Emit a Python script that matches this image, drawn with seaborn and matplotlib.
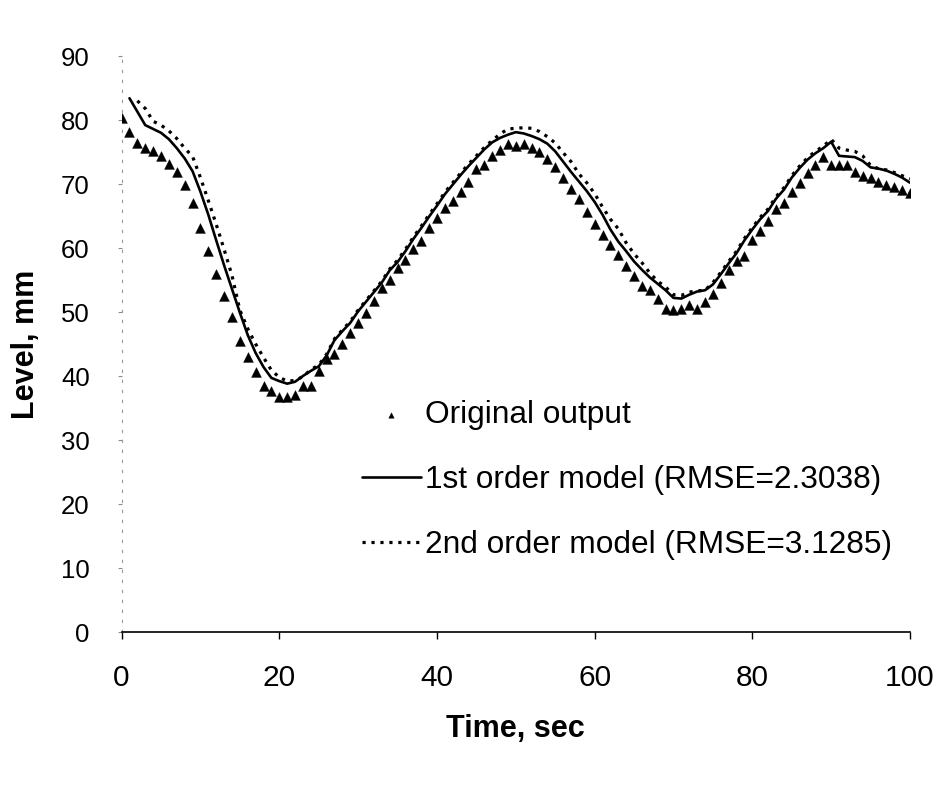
import matplotlib
matplotlib.use("Agg")
import matplotlib.pyplot as plt
import seaborn as sns
import pandas as pd

# Measured tank level (one sample per second)
time_orig = list(range(0, 101))
level_orig = [
    80.3, 78.2, 76.4, 75.7, 75.1, 74.4, 73.2, 71.9, 69.9, 67.0,
    63.1, 59.5, 55.9, 52.5, 49.2, 45.5, 42.9, 40.7, 38.5, 37.6,
    36.7, 36.7, 37.0, 38.5, 38.5, 40.8, 42.7, 43.5, 45.0, 46.7,
    48.3, 49.8, 51.7, 53.7, 55.0, 56.8, 58.1, 59.8, 61.1, 63.2,
    64.7, 66.2, 67.4, 68.7, 70.3, 72.4, 73.0, 74.3, 75.3, 76.2,
    75.9, 76.2, 75.6, 75.0, 73.9, 72.6, 70.9, 69.2, 67.7, 65.6,
    63.8, 62.0, 60.5, 58.9, 57.2, 55.7, 54.1, 53.4, 52.1, 50.5,
    50.3, 50.5, 51.1, 50.5, 51.5, 52.8, 54.5, 56.5, 57.9, 58.7,
    61.3, 62.7, 64.2, 66.1, 67.1, 68.8, 70.1, 71.7, 72.9, 74.2,
    73.0, 73.0, 73.0, 71.8, 71.2, 70.9, 70.3, 69.9, 69.6, 69.1,
    68.6,
]

# First-order model prediction
time_m1 = list(range(1, 101))
level_m1 = [
    83.4, 81.3, 79.2, 78.6, 78.0, 77.0, 75.6, 74.0, 72.0, 68.8,
    65.2, 61.2, 57.3, 53.6, 49.9, 46.4, 43.6, 41.4, 39.7, 39.2,
    38.8, 39.1, 40.0, 40.8, 41.5, 43.2, 45.6, 47.0, 48.3, 50.1,
    51.6, 53.1, 54.6, 56.5, 57.8, 59.5, 61.4, 63.1, 64.9, 66.6,
    68.4, 69.9, 71.4, 72.8, 74.1, 75.4, 76.5, 77.2, 77.7, 78.1,
    77.9, 77.5, 77.0, 76.3, 75.1, 73.5, 71.9, 70.4, 68.9, 67.2,
    65.2, 62.9, 61.0, 59.5, 57.9, 56.6, 55.4, 54.4, 53.4, 52.2,
    52.1, 52.7, 53.2, 53.4, 54.3, 55.9, 57.6, 59.2, 61.2, 62.9,
    64.5, 65.8, 67.7, 69.1, 71.0, 72.5, 73.8, 74.8, 75.6, 76.6,
    74.4, 74.3, 74.2, 73.6, 72.6, 72.4, 72.1, 71.6, 71.0, 70.2,
]

# Second-order model prediction
time_m2 = list(range(2, 101))
level_m2 = [
    83.0, 81.8, 79.8, 79.2, 78.3, 77.1, 75.6, 74.3, 71.0,
    67.4, 63.7, 59.8, 55.7, 50.3, 47.4, 45.0, 42.9, 40.9, 39.8,
    39.2, 39.3, 39.9, 41.0, 41.7, 43.4, 45.8, 47.2, 48.5, 50.3,
    51.8, 53.3, 54.8, 56.7, 58.1, 59.8, 61.7, 63.4, 65.2, 66.9,
    68.7, 70.2, 71.7, 73.1, 74.4, 75.7, 76.8, 77.8, 78.6, 78.7,
    78.8, 78.7, 78.2, 77.4, 76.4, 74.9, 73.5, 71.6, 70.2, 68.5,
    66.4, 64.5, 63.0, 60.8, 59.1, 57.7, 56.1, 54.8, 53.9, 52.7,
    52.6, 53.1, 53.3, 53.4, 54.6, 56.2, 57.9, 59.5, 61.5, 63.2,
    64.8, 66.1, 68.0, 69.4, 71.3, 72.8, 74.1, 75.1, 75.9, 77.0,
    75.6, 75.3, 75.1, 74.4, 72.9, 72.4, 72.2, 71.8, 71.3, 70.8,
]

label_orig = "Original output"
label_m1 = "1st order model (RMSE=2.3038)"
label_m2 = "2nd order model (RMSE=3.1285)"
x_ticks = [0, 20, 40, 60, 80, 100]
y_ticks = [0, 10, 20, 30, 40, 50, 60, 70, 80, 90]

df_orig = pd.DataFrame({"t": time_orig, "level": level_orig})
df_m1 = pd.DataFrame({"t": time_m1, "level": level_m1})
df_m2 = pd.DataFrame({"t": time_m2, "level": level_m2})

sns.set_theme(style="white")
plt.rcParams["font.family"] = ["Liberation Sans", "DejaVu Sans"]
for key in ("text.color", "axes.labelcolor", "xtick.color", "ytick.color"):
    plt.rcParams[key] = "black"

fig = plt.figure(figsize=(9.46, 7.87), dpi=100)
ax = fig.add_axes([121.6 / 946, 1 - 632 / 787, (910 - 121.6) / 946, (632 - 56) / 787])

sns.scatterplot(data=df_orig, x="t", y="level", ax=ax, marker="^", s=50,
                color="black", edgecolor="black", linewidth=0.3,
                label=label_orig, zorder=3)
sns.lineplot(data=df_m1, x="t", y="level", ax=ax, color="black",
             linewidth=1.9, label=label_m1, zorder=4)
sns.lineplot(data=df_m2, x="t", y="level", ax=ax, color="black",
             linewidth=2.3, linestyle=(0, (1, 1.8)), label=label_m2, zorder=4)

ax.set_xlim(0, 100)
ax.set_ylim(0, 90)
ax.set_xticks(x_ticks)
ax.set_yticks(y_ticks)

for side in ("top", "right"):
    ax.spines[side].set_visible(False)
ax.spines["bottom"].set_color("black")
ax.spines["bottom"].set_linewidth(1.2)
ax.spines["left"].set_color("#9a9a9a")
ax.spines["left"].set_linewidth(0.8)
ax.spines["left"].set_linestyle((0, (2, 7)))

ax.tick_params(axis="x", direction="out", length=5, width=1.0, color="black",
               labelcolor="black", labelsize=21.5, pad=18, bottom=True)
ax.tick_params(axis="y", direction="out", length=3, width=0.8, color="#8a8a8a",
               labelcolor="black", labelsize=18.5, pad=20, left=True)

ax.set_xlabel("Time, sec", fontsize=22, fontweight="bold", labelpad=16, color="black")
ax.set_ylabel("Level, mm", fontsize=22, fontweight="bold", labelpad=14, color="black")

leg = ax.legend(loc="upper left", bbox_to_anchor=(362 / 946, 1 - 400 / 787),
                bbox_transform=fig.transFigure, frameon=False, fontsize=22.8,
                handlelength=1.85, handletextpad=0.15, labelspacing=1.1,
                borderpad=0, borderaxespad=0, markerscale=0.55)
for txt in leg.get_texts():
    txt.set_color("black")

fig.savefig("out.png", dpi=100, facecolor="white")
